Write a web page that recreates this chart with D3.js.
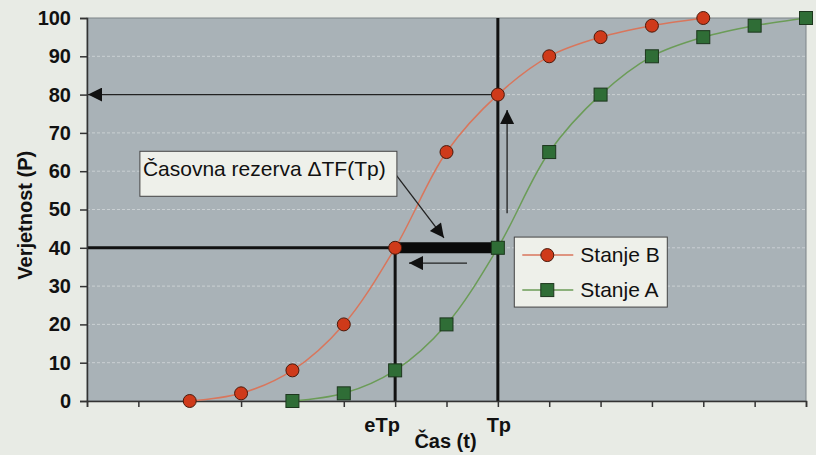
<!DOCTYPE html>
<html>
<head>
<meta charset="utf-8">
<script src="https://cdn.jsdelivr.net/npm/d3@7"></script>
<style>
  body { margin: 0; background: #e8ebe5; }
  svg { display: block; }
  text { font-family: "Liberation Sans", Arial, sans-serif; }
</style>
</head>
<body>
<svg id="chart" width="816" height="455"></svg>
<script>
// time slots on the x axis (tick positions 0..14)
const slots = d3.range(0, 15);
const xTickLabels = {6: "eTp", 8: "Tp"};
const yTicks = [0, 10, 20, 30, 40, 50, 60, 70, 80, 90, 100];

// Stanje B starts at slot 2, Stanje A at slot 4
const stanjeB_x = [2, 3, 4, 5, 6, 7, 8, 9, 10, 11, 12];
const stanjeB_y = [0, 2, 8, 20, 40, 65, 80, 90, 95, 98, 100];
const stanjeA_x = [4, 5, 6, 7, 8, 9, 10, 11, 12, 13, 14];
const stanjeA_y = [0, 2, 8, 20, 40, 65, 80, 90, 95, 98, 100];

const eTp = 6, Tp = 8, pLevel = 40, pTp = 80;

const svg = d3.select("#chart");
const margin = {top: 18, right: 10, bottom: 54, left: 87};
const width = 816, height = 455;
const innerWidth = width - margin.left - margin.right;
const innerHeight = height - margin.top - margin.bottom;

const xScale = d3.scaleLinear().domain([0, 14]).range([0, innerWidth]);
const yScale = d3.scaleLinear().domain([0, 100]).range([innerHeight, 0]);

const defs = svg.append("defs");
// arrowheads
function marker(id, w, h) {
    defs.append("marker")
        .attr("id", id)
        .attr("viewBox", "0 0 10 10")
        .attr("refX", 10).attr("refY", 5)
        .attr("markerWidth", w).attr("markerHeight", h)
        .attr("markerUnits", "userSpaceOnUse")
        .attr("orient", "auto-start-reverse")
        .append("path")
        .attr("d", "M0,0 L10,5 L0,10 Z")
        .attr("fill", "#111");
}
marker("arrowBig", 22, 14);
marker("arrowMid", 18, 14);

const g = svg.append("g")
    .attr("transform", `translate(${margin.left},${margin.top})`);

// plot area
g.append("rect")
    .attr("width", innerWidth)
    .attr("height", innerHeight)
    .attr("fill", "#a9b2b7")
    .attr("stroke", "#7d8488");

// gridlines
g.append("g")
    .selectAll("line")
    .data(yTicks.filter(d => d > 0 && d < 100))
    .enter().append("line")
    .attr("x1", 0).attr("x2", innerWidth)
    .attr("y1", d => yScale(d)).attr("y2", d => yScale(d))
    .attr("stroke", "#d3d8da")
    .attr("stroke-width", 1)
    .attr("stroke-dasharray", "3,2")
    .attr("opacity", 0.8);

// thin horizontal arrow at P=80 from Tp to the y axis
g.append("line")
    .attr("x1", xScale(Tp)).attr("x2", xScale(0) + 1)
    .attr("y1", yScale(pTp)).attr("y2", yScale(pTp))
    .attr("stroke", "#222").attr("stroke-width", 1.3)
    .attr("marker-end", "url(#arrowBig)");

// vertical line at Tp
g.append("line")
    .attr("x1", xScale(Tp)).attr("x2", xScale(Tp))
    .attr("y1", 0).attr("y2", innerHeight)
    .attr("stroke", "#111").attr("stroke-width", 3);

// horizontal line at P=40 up to eTp
g.append("line")
    .attr("x1", 0).attr("x2", xScale(eTp))
    .attr("y1", yScale(pLevel)).attr("y2", yScale(pLevel))
    .attr("stroke", "#111").attr("stroke-width", 3);

// vertical line at eTp
g.append("line")
    .attr("x1", xScale(eTp)).attr("x2", xScale(eTp))
    .attr("y1", yScale(pLevel)).attr("y2", innerHeight)
    .attr("stroke", "#111").attr("stroke-width", 3);

// axes
const xAxis = g.append("g")
    .attr("transform", `translate(0,${innerHeight})`)
    .call(d3.axisBottom(xScale).tickValues(slots).tickSize(6));
xAxis.selectAll(".tick text").remove();
xAxis.select(".domain").attr("stroke", "#333").attr("stroke-width", 1.5);
xAxis.selectAll(".tick line").attr("stroke", "#333").attr("stroke-width", 1.5);

const yAxis = g.append("g")
    .call(d3.axisLeft(yScale).tickValues(yTicks).tickSize(7).tickPadding(9));
yAxis.select(".domain").attr("stroke", "#333").attr("stroke-width", 1.5);
yAxis.selectAll(".tick line").attr("stroke", "#333").attr("stroke-width", 1.5);
yAxis.selectAll(".tick text")
    .attr("font-size", 20).attr("font-weight", "bold")
    .attr("font-family", "Liberation Sans, Arial, sans-serif")
    .attr("fill", "#111");

// x tick labels
g.append("g")
    .selectAll("text")
    .data(Object.keys(xTickLabels).map(Number))
    .enter().append("text")
    .attr("x", d => xScale(d) + (d === eTp ? -13 : 1))
    .attr("y", innerHeight + 31)
    .attr("text-anchor", "middle")
    .attr("font-size", 20).attr("font-weight", "bold")
    .attr("fill", "#111")
    .text(d => xTickLabels[d]);

// axis titles
g.append("text")
    .attr("x", xScale(7) - 1).attr("y", innerHeight + 47)
    .attr("text-anchor", "middle")
    .attr("font-size", 20).attr("font-weight", "bold")
    .attr("fill", "#111")
    .text("Čas (t)");

g.append("text")
    .attr("transform", `translate(${-margin.left + 32},${yScale(48.5)}) rotate(-90)`)
    .attr("text-anchor", "middle")
    .attr("font-size", 20).attr("font-weight", "bold")
    .attr("fill", "#111")
    .text("Verjetnost (P)");

// series
const series = [
    {name: "Stanje B", xs: stanjeB_x, ys: stanjeB_y, line: "#d9765c", fill: "#cf3a1a", stroke: "#4a1a0c", shape: "circle"},
    {name: "Stanje A", xs: stanjeA_x, ys: stanjeA_y, line: "#6b9c57", fill: "#2f6d36", stroke: "#1c361d", shape: "square"}
];

const genLine = d3.line()
    .x(d => xScale(d[0]))
    .y(d => yScale(d[1]))
    .curve(d3.curveCatmullRom.alpha(0.5));

series.forEach(s => {
    const pts = s.xs.map((x, i) => [x, s.ys[i]]);
    g.append("path")
        .datum(pts)
        .attr("d", genLine)
        .attr("fill", "none")
        .attr("stroke", s.line)
        .attr("stroke-width", 1.5);
});

// thick bar = time reserve between eTp and Tp at P=40
g.append("line")
    .attr("x1", xScale(eTp)).attr("x2", xScale(Tp))
    .attr("y1", yScale(pLevel)).attr("y2", yScale(pLevel))
    .attr("stroke", "#0a0a0a").attr("stroke-width", 11);

// markers
series.forEach(s => {
    const pts = s.xs.map((x, i) => [x, s.ys[i]]);
    if (s.shape === "circle") {
        g.append("g").selectAll("circle")
            .data(pts).enter().append("circle")
            .attr("cx", d => xScale(d[0])).attr("cy", d => yScale(d[1]))
            .attr("r", 6.5)
            .attr("fill", s.fill).attr("stroke", s.stroke).attr("stroke-width", 1);
    } else {
        g.append("g").selectAll("rect")
            .data(pts).enter().append("rect")
            .attr("x", d => xScale(d[0]) - 6.5).attr("y", d => yScale(d[1]) - 6.5)
            .attr("width", 13).attr("height", 13)
            .attr("fill", s.fill).attr("stroke", s.stroke).attr("stroke-width", 1);
    }
});

// small arrow left under the bar
g.append("line")
    .attr("x1", xScale(7.4)).attr("x2", xScale(6.27))
    .attr("y1", yScale(36)).attr("y2", yScale(36))
    .attr("stroke", "#222").attr("stroke-width", 1.3)
    .attr("marker-end", "url(#arrowMid)");

// vertical arrow up next to Tp
g.append("line")
    .attr("x1", xScale(8.18)).attr("x2", xScale(8.18))
    .attr("y1", yScale(49)).attr("y2", yScale(76))
    .attr("stroke", "#222").attr("stroke-width", 1.3)
    .attr("marker-end", "url(#arrowMid)");

// callout
const callout = {x: xScale(1.03), y: yScale(65.2), w: 257, h: 45};
g.append("line")
    .attr("x1", callout.x + callout.w - 2).attr("y1", callout.y + 22)
    .attr("x2", xScale(6.95)).attr("y2", yScale(42.6))
    .attr("stroke", "#222").attr("stroke-width", 1.3)
    .attr("marker-end", "url(#arrowMid)");
g.append("rect")
    .attr("x", callout.x).attr("y", callout.y)
    .attr("width", callout.w).attr("height", callout.h)
    .attr("fill", "#eef0ea").attr("stroke", "#444").attr("stroke-width", 1);
g.append("text")
    .attr("x", callout.x + 3).attr("y", callout.y + 25)
    .attr("font-size", 21).attr("fill", "#111")
    .text("Časovna rezerva ΔTF(Tp)");

// legend
const legend = g.append("g")
    .attr("transform", `translate(${xScale(8.32)},${yScale(42.8)})`);
legend.append("rect")
    .attr("width", 153).attr("height", 70)
    .attr("fill", "#eef0ea").attr("stroke", "#444").attr("stroke-width", 1);
series.forEach((s, i) => {
    const row = legend.append("g").attr("transform", `translate(0,${18 + i * 35})`);
    row.append("line")
        .attr("x1", 8).attr("x2", 59)
        .attr("stroke", s.line).attr("stroke-width", 1.5);
    if (s.shape === "circle") {
        row.append("circle").attr("cx", 33).attr("r", 6.5)
            .attr("fill", s.fill).attr("stroke", s.stroke);
    } else {
        row.append("rect").attr("x", 26.5).attr("y", -6.5)
            .attr("width", 13).attr("height", 13)
            .attr("fill", s.fill).attr("stroke", s.stroke);
    }
    row.append("text")
        .attr("x", 66).attr("y", 7)
        .attr("font-size", 21).attr("fill", "#111")
        .text(s.name);
});
</script>
</body>
</html>
